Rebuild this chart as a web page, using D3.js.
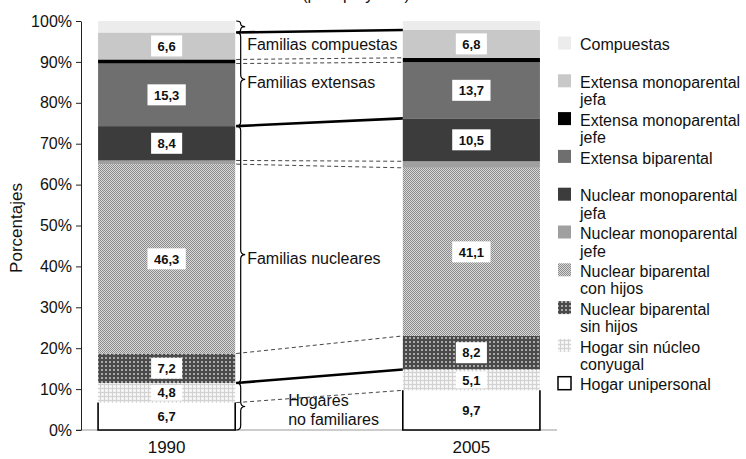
<!DOCTYPE html>
<html>
<head>
<meta charset="utf-8">
<script src="https://cdn.jsdelivr.net/npm/d3@7"></script>
<style>
  body { margin: 0; background: #fff; }
  text { font-family: "Liberation Sans", Arial, sans-serif; fill: #111; }
</style>
</head>
<body>
<svg id="chart" width="746" height="459"></svg>
<script>
// data, bottom to top of each bar
const years = ['1990', '2005']
const types = ['unipersonal', 'sinNucleo', 'sinHijos', 'conHijos', 'nucJefe', 'nucJefa', 'extBip', 'extJefe', 'extJefa', 'compuestas']
const values1990 = [6.7, 4.8, 7.2, 46.3, 0.9, 8.4, 15.3, 1.0, 6.6, 2.8]
const values2005 = [9.7, 5.1, 8.2, 41.1, 1.6, 10.5, 13.7, 1.1, 6.8, 2.2]
const labelled = [true, true, true, true, false, true, true, false, true, false]
const legendNames = ['Hogar unipersonal', 'Hogar sin núcleo\nconyugal', 'Nuclear biparental\nsin hijos', 'Nuclear biparental\ncon hijos',
  'Nuclear monoparental\njefe', 'Nuclear monoparental\njefa', 'Extensa biparental', 'Extensa monoparental\njefe',
  'Extensa monoparental\njefa', 'Compuestas']
const groupNames = ['Hogares\nno familiares', 'Familias nucleares', 'Familias extensas', 'Familias compuestas']
const groupSizes = [2, 4, 3, 1]
const yTicks = [0, 10, 20, 30, 40, 50, 60, 70, 80, 90, 100]
const title = '(por tipo y año)'

const fills = {
  unipersonal: '#fff', sinNucleo: 'url(#p-sinNucleo)', sinHijos: 'url(#p-sinHijos)', conHijos: 'url(#p-conHijos)',
  nucJefe: '#a0a0a0', nucJefa: '#3c3c3c', extBip: '#6f6f6f', extJefe: '#000', extJefa: '#c8c8c8', compuestas: '#ececec'
}
// style of the line joining the top of each series between the two bars
const joinStyle = ['dash', 'solid', 'dash', 'dash', 'dash', 'solid', 'dash', 'dash', 'solid', null]

const svg = d3.select('#chart')
const defs = svg.append('defs')

const pattern = (id, size, bg, cells) => {
  const p = defs.append('pattern').attr('id', id).attr('patternUnits', 'userSpaceOnUse')
    .attr('width', size).attr('height', size)
  p.append('rect').attr('width', size).attr('height', size).attr('fill', bg)
  cells.forEach(c => p.append('rect').attr('x', c[0]).attr('y', c[1]).attr('width', c[2]).attr('height', c[3]).attr('fill', c[4]))
}
pattern('p-conHijos', 2, '#d8d8d8', [[0, 0, 1, 1, '#8c8c8c'], [1, 1, 1, 1, '#8c8c8c']])
pattern('p-sinHijos', 4, '#4a4a4a', [[1, 1, 2, 2, '#a8a8a8']])
pattern('p-sinNucleo', 4, '#f2f2f2', [[0, 0, 4, 1, '#d2d2d2'], [0, 0, 1, 4, '#d2d2d2'], [2, 2, 1, 1, '#fff']])

const rows = years.map((yr, i) => {
  const vals = i === 0 ? values1990 : values2005
  const r = { year: yr }
  types.forEach((t, j) => r[t] = vals[j])
  return r
})
const series = d3.stack().keys(types)(rows)

const x = d3.scaleBand().domain(years).range([81, 557]).paddingInner(0.55).paddingOuter(0.056)
const y = d3.scaleLinear().domain([0, 100]).range([430, 21])

// partly cut title at the very top
svg.append('text').attr('x', 356).attr('y', 0).attr('text-anchor', 'middle')
  .attr('font-size', 16).text(title)

// baseline
svg.append('line').attr('x1', 76).attr('x2', 557).attr('y1', y(0)).attr('y2', y(0))
  .attr('stroke', '#999').attr('stroke-width', 1)

const yAxis = svg.append('g').attr('transform', 'translate(81,0)')
  .call(d3.axisLeft(y).tickValues(yTicks).tickFormat(d => d + '%').tickSize(5).tickSizeOuter(0).tickPadding(4))
yAxis.selectAll('text').attr('font-size', 16).style('font-family', '"Liberation Sans", Arial, sans-serif').attr('fill', '#111')
yAxis.selectAll('line, path').attr('stroke', '#222')

svg.append('text').attr('transform', 'translate(22,228) rotate(-90)').attr('text-anchor', 'middle')
  .attr('font-size', 17).text('Porcentajes')

// bars
series.forEach(s => {
  svg.append('g').selectAll('rect').data(s).join('rect')
    .attr('x', d => x(d.data.year))
    .attr('width', x.bandwidth())
    .attr('y', d => y(d[1]))
    .attr('height', d => y(d[0]) - y(d[1]))
    .attr('fill', fills[s.key])
})
// border of the one-person households
series[0].forEach(d => {
  const x0 = x(d.data.year), x1 = x0 + x.bandwidth()
  svg.append('path')
    .attr('d', `M${x0},${y(d[1])}V${y(d[0])}H${x1}V${y(d[1])}`)
    .attr('fill', 'none').attr('stroke', '#000').attr('stroke-width', 1.6)
})

// joining lines between the bars
const left = x('1990') + x.bandwidth(), right = x('2005')
series.forEach((s, i) => {
  if (!joinStyle[i]) return
  const solid = joinStyle[i] === 'solid'
  svg.append('line')
    .attr('x1', left + 1).attr('x2', right)
    .attr('y1', y(s[0][1])).attr('y2', y(s[1][1]))
    .attr('stroke', solid ? '#000' : '#444')
    .attr('stroke-width', solid ? 2.6 : 1)
    .attr('stroke-dasharray', solid ? null : '4,3')
})

// value boxes
series.forEach((s, i) => {
  if (!labelled[i]) return
  s.forEach(d => {
    const cx = x(d.data.year) + x.bandwidth() / 2
    const cy = (y(d[0]) + y(d[1])) / 2
    const segH = y(d[0]) - y(d[1])
    const g = svg.append('g').attr('transform', `translate(${cx},${cy})`)
    const box = g.append('rect').attr('fill', '#fff')
    const t = g.append('text').attr('text-anchor', 'middle').attr('dy', '0.36em')
      .attr('font-size', 13).attr('font-weight', 'bold')
      .text(d3.format('.1f')(d[1] - d[0]).replace('.', ','))
    const w = t.node().getComputedTextLength() + 13
    const h = Math.min(21, segH - 4)
    box.attr('x', -w / 2).attr('y', -h / 2).attr('width', w).attr('height', h)
  })
})

// braces on the 1990 bar
const brace = (bx, y0, y1, w) => {
  const m = (y0 + y1) / 2, r = Math.min(w / 2, (y1 - y0) / 4), xm = bx + w / 2
  return `M${bx},${y0}Q${xm},${y0} ${xm},${y0 + r}L${xm},${m - r}Q${xm},${m} ${bx + w},${m}` +
    `Q${xm},${m} ${xm},${m + r}L${xm},${y1 - r}Q${xm},${y1} ${bx},${y1}`
}
const labelPlace = [
  { dx: 53, lines: [-6, 13] },
  { dx: 12, lines: [4] },
  { dx: 12, lines: [3] },
  { dx: 12, lines: [0] }
]
let start = 0
groupSizes.forEach((n, gi) => {
  const lo = series[start][0][0], hi = series[start + n - 1][0][1]
  const y0 = y(hi), y1 = y(lo)
  svg.append('path').attr('d', brace(left + 1, y0, y1, 9))
    .attr('fill', 'none').attr('stroke', '#000').attr('stroke-width', 1.2)
  const place = labelPlace[gi]
  const cy = gi === 3 ? y1 + 12 : (y0 + y1) / 2
  groupNames[gi].split('\n').forEach((line, li) => {
    svg.append('text').attr('x', left + place.dx).attr('y', cy + place.lines[li])
      .attr('dy', '0.35em').attr('font-size', 16).text(line)
  })
  start += n
})

// year labels
svg.append('g').selectAll('text').data(years).join('text')
  .attr('x', d => x(d) + x.bandwidth() / 2).attr('y', 447).attr('dy', '0.35em')
  .attr('text-anchor', 'middle').attr('font-size', 17).text(d => d)

// legend, top to bottom
const legend = svg.append('g')
types.slice().reverse().forEach((t, i) => {
  const idx = types.indexOf(t)
  const cy = 43 + 37.8 * i
  legend.append('rect').attr('x', 558).attr('y', cy - 6.5).attr('width', 13).attr('height', 13)
    .attr('fill', fills[t])
    .attr('stroke', t === 'unipersonal' ? '#000' : 'none').attr('stroke-width', 1.5)
  legendNames[idx].split('\n').forEach((line, li) => {
    legend.append('text').attr('x', 580).attr('y', cy + 1.5 + li * 17.5).attr('dy', '0.35em')
      .attr('font-size', 16).text(line)
  })
})
</script>
</body>
</html>
